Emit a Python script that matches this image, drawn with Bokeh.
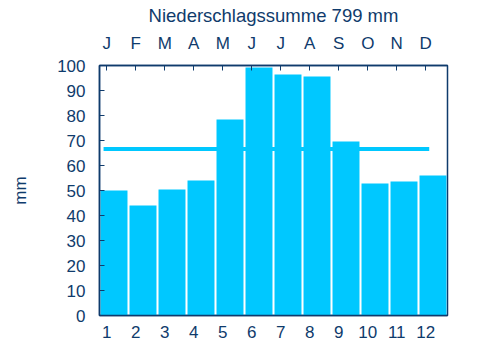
from bokeh.plotting import figure
from bokeh.models import LinearAxis, FixedTicker, Range1d, ColumnDataSource
from bokeh.embed import file_html
from bokeh.resources import INLINE

months = [1, 2, 3, 4, 5, 6, 7, 8, 9, 10, 11, 12]
month_letters = ["J", "F", "M", "A", "M", "J", "J", "A", "S", "O", "N", "D"]
precip = [50, 44, 50.4, 54, 78.4, 99.2, 96.4, 95.6, 69.6, 52.8, 53.6, 56]
total = 799
y_ticks = [0, 10, 20, 30, 40, 50, 60, 70, 80, 90, 100]

BAR = "#00C8FF"
NAVY = "#0f3b6c"
FONT = "Liberation Sans"

bar_offset = 0.25
src = ColumnDataSource(dict(x=[m + bar_offset for m in months], top=precip))

x_start, x_end = months[0] - bar_offset, months[-1] + 0.5 + bar_offset
p = figure(width=472, height=352, output_backend="svg", toolbar_location=None,
           x_range=Range1d(x_start, x_end),
           y_range=Range1d(0, 100),
           min_border_left=99, min_border_right=25, min_border_top=65, min_border_bottom=37,
           x_axis_location=None, y_axis_location=None)

p.vbar(x="x", top="top", bottom=0, width=0.93, source=src, fill_color=BAR, line_color=None)

avg = total / 12
p.segment(x0=[months[0] - 0.11], x1=[months[-1] + 0.12], y0=[avg], y1=[avg],
          line_color=BAR, line_width=4)

p.xgrid.visible = False
p.ygrid.visible = False
p.outline_line_color = NAVY
p.outline_line_width = 1.5
p.background_fill_color = "white"
p.border_fill_color = "white"

def style(ax):
    ax.major_label_text_font = FONT
    ax.major_label_text_font_size = "17px"
    ax.major_label_text_color = NAVY
    ax.axis_line_color = NAVY
    ax.axis_line_width = 1.5
    ax.major_tick_line_color = NAVY
    ax.minor_tick_line_color = None

left = LinearAxis(ticker=FixedTicker(ticks=y_ticks), axis_label="mm")
style(left)
left.major_tick_in = 5
left.major_tick_out = 0
left.major_label_standoff = 14
left.axis_label_text_font = FONT
left.axis_label_text_font_size = "17px"
left.axis_label_text_font_style = "normal"
left.axis_label_text_color = NAVY
left.axis_label_standoff = 24
p.add_layout(left, "left")

bottom = LinearAxis(ticker=FixedTicker(ticks=months))
style(bottom)
bottom.major_tick_in = 0
bottom.major_tick_out = 0
bottom.major_label_standoff = 10
p.add_layout(bottom, "below")

top = LinearAxis(ticker=FixedTicker(ticks=months),
                 major_label_overrides={m: l for m, l in zip(months, month_letters)},
                 axis_label=f"Niederschlagssumme {total} mm")
style(top)
top.major_tick_in = 5
top.major_tick_out = 0
top.major_label_standoff = 13
top.axis_label_text_font = FONT
top.axis_label_text_font_size = "18.5px"
top.axis_label_text_font_style = "normal"
top.axis_label_text_color = NAVY
top.axis_label_standoff = 5
p.add_layout(top, "above")

open("out.html", "w").write(file_html(p, INLINE))
